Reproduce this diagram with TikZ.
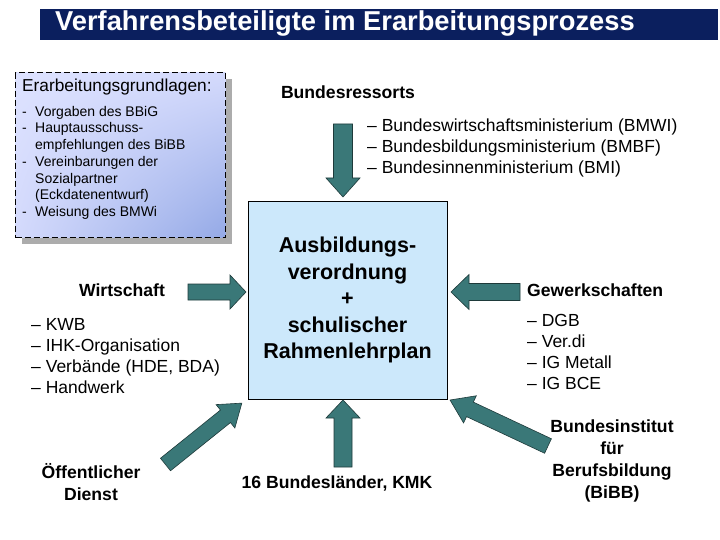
\documentclass[tikz,border=0pt]{standalone}
\usepackage{fontspec}
\setmainfont{Liberation Sans}
\usetikzlibrary{calc,shadings}
\definecolor{navy}{HTML}{0B1F5E}
\definecolor{arrowteal}{HTML}{3A7878}
\definecolor{arrowline}{HTML}{1E3A3A}
\definecolor{boxblue}{HTML}{CCE8FB}
\definecolor{lavA}{HTML}{DDE2FF}
\definecolor{lavB}{HTML}{D4DAFC}
\definecolor{lavC}{HTML}{94A9E6}
\newcommand\blockarrow[5]{%
  \path let \p1=(#1), \p2=(#2), \n1={atan2(\y2-\y1,\x2-\x1)}, \n2={veclen(\x2-\x1,\y2-\y1)} in
    \pgfextra{\xdef\baang{\n1}\xdef\balen{\n2}\xdef\bax{\x1}\xdef\bay{\y1}};
  \begin{scope}[shift={(\bax,\bay)},rotate=\baang]
    \draw[blockarr] (0,-#3) -- ({\balen-#5},-#3) -- ({\balen-#5},-#4) -- (\balen,0)
      -- ({\balen-#5},#4) -- ({\balen-#5},#3) -- (0,#3) -- cycle;
  \end{scope}}
\tikzset{
  blockarr/.style={fill=arrowteal, draw=arrowline, line width=0.6pt, line join=miter},
  boldlbl/.style={font=\bfseries\fontsize{17.6}{22}\selectfont, inner sep=0pt},
  listtxt/.style={font=\fontsize{17.5}{21}\selectfont, align=left, inner sep=0pt},
}
\begin{document}
\begin{tikzpicture}[x=1pt,y=-1pt]
\useasboundingbox (0,0) rectangle (720,540);
\fill[white] (0,0) rectangle (720,540);
% title bar
\node[fill=navy, minimum width=678pt, minimum height=31pt, anchor=north west, inner sep=0pt] (bar) at (40,9) {};
\node[anchor=west, text=white, font=\bfseries\fontsize{27.3}{30}\selectfont, inner sep=0pt] (title) at (55,24) {Verfahrensbeteiligte im Erarbeitungsprozess};
% left basis box
\fill[gray!65] (22,79) rectangle (232,244);
\node[draw=black, line width=1.4pt, dash pattern=on 6pt off 3pt, minimum width=210pt, minimum height=165pt,
  anchor=north west, inner sep=0pt, shading=four color, upper left=lavA, upper right=lavB, lower left=lavB, lower right=lavC] (basis) at (15,72) {};
\node[anchor=west, font=\fontsize{17.3}{20}\selectfont, inner sep=0pt] (basistitle) at (22,87) {Erarbeitungsgrundlagen:};
\node[anchor=west, inner sep=0pt, font=\fontsize{14}{16.67}\selectfont] (basislist) at (22,163) {%
  \begin{tabular}{@{}p{13pt}@{}l@{}}
  -&Vorgaben des BBiG\\
  -&Hauptausschuss-\\
  &empfehlungen des BiBB\\
  -&Vereinbarungen der\\
  &Sozialpartner\\
  &(Eckdatenentwurf)\\
  -&Weisung des BMWi
  \end{tabular}};
% center box
\node[draw=black, line width=0.6pt, fill=boxblue, minimum width=199pt, minimum height=198pt, inner sep=0pt,
  align=center, font=\bfseries\fontsize{21.5}{26.5}\selectfont] (center) at (347.5,300)
  {Ausbildungs-\\verordnung\\+\\schulischer\\Rahmenlehrplan};
% labels
\node[boldlbl] (bres) at (348,92) {Bundesressorts};
\node[listtxt, anchor=west] (breslist) at (367,148) {– Bundeswirtschaftsministerium (BMWI)\\– Bundesbildungsministerium (BMBF)\\– Bundesinnenministerium (BMI)};
\node[boldlbl] (wirt) at (122,290) {Wirtschaft};
\node[listtxt, anchor=west] (wirtlist) at (31,356.5) {– KWB\\– IHK-Organisation\\– Verbände (HDE, BDA)\\– Handwerk};
\node[boldlbl, anchor=west] (gew) at (527,290) {Gewerkschaften};
\node[listtxt, anchor=west] (gewlist) at (527,351.5) {– DGB\\– Ver.di\\– IG Metall\\– IG BCE};
\node[boldlbl, align=center] (oed) at (91,482) {Öffentlicher\\Dienst};
\node[boldlbl] (laender) at (337,483) {16 Bundesländer, KMK};
\node[boldlbl, align=center] (bibb) at (612,461) {Bundesinstitut\\für\\Berufsbildung\\(BiBB)};
% arrows
\coordinate (tTop) at (343,124); \coordinate (hTop) at (343,197);
\coordinate (tLeft) at (188,292); \coordinate (hLeft) at (246,292);
\coordinate (tRight) at (520,292); \coordinate (hRight) at (451,292);
\coordinate (tBot) at (343,467); \coordinate (hBot) at (343,400);
\coordinate (tLL) at (165.5,464.5); \coordinate (hLL) at (242,403);
\coordinate (tLR) at (548,446); \coordinate (hLR) at (450,400);
\blockarrow{tTop}{hTop}{9.5}{17}{19}
\blockarrow{tLeft}{hLeft}{8}{17}{16}
\blockarrow{tRight}{hRight}{8.5}{17.5}{18}
\blockarrow{tBot}{hBot}{9}{17}{18}
\blockarrow{tLL}{hLL}{8}{15}{21}
\blockarrow{tLR}{hLR}{8}{15}{22}
\end{tikzpicture}
\end{document}
